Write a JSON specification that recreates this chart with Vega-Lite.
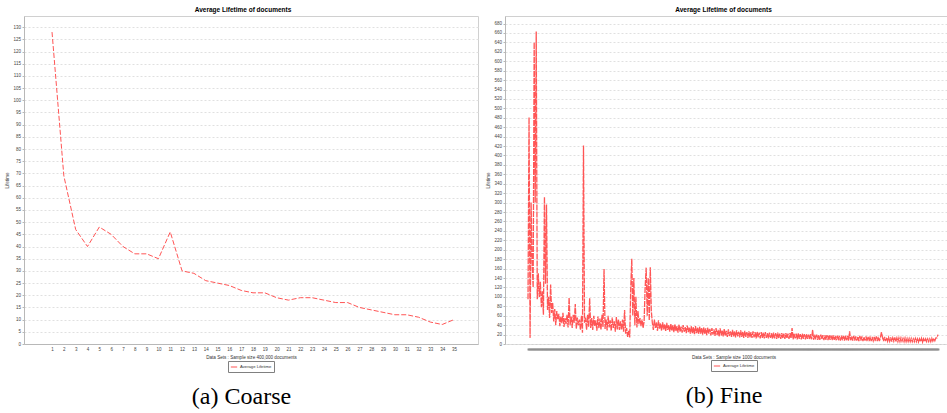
{
  "$schema": "https://vega.github.io/schema/vega-lite/v6.json",
  "background": "white",
  "padding": {"left": 4, "top": 6, "right": 0, "bottom": 0},
  "spacing": 6,
  "resolve": {"scale": {"color": "independent"}, "legend": {"color": "independent"}},
  "datasets": {
    "coarse": [
      {"set": 1, "lifetime": 128}, {"set": 2, "lifetime": 69}, {"set": 3, "lifetime": 47}, {"set": 4, "lifetime": 40},
      {"set": 5, "lifetime": 48}, {"set": 6, "lifetime": 45}, {"set": 7, "lifetime": 40}, {"set": 8, "lifetime": 37},
      {"set": 9, "lifetime": 37}, {"set": 10, "lifetime": 35}, {"set": 11, "lifetime": 46}, {"set": 12, "lifetime": 30},
      {"set": 13, "lifetime": 29}, {"set": 14, "lifetime": 26}, {"set": 15, "lifetime": 25}, {"set": 16, "lifetime": 24},
      {"set": 17, "lifetime": 22}, {"set": 18, "lifetime": 21}, {"set": 19, "lifetime": 21}, {"set": 20, "lifetime": 19},
      {"set": 21, "lifetime": 18}, {"set": 22, "lifetime": 19}, {"set": 23, "lifetime": 19}, {"set": 24, "lifetime": 18},
      {"set": 25, "lifetime": 17}, {"set": 26, "lifetime": 17}, {"set": 27, "lifetime": 15}, {"set": 28, "lifetime": 14},
      {"set": 29, "lifetime": 13}, {"set": 30, "lifetime": 12}, {"set": 31, "lifetime": 12}, {"set": 32, "lifetime": 11},
      {"set": 33, "lifetime": 9}, {"set": 34, "lifetime": 8}, {"set": 35, "lifetime": 10}
    ],
    "fine": [
      {"d":1,"v":95},{"d":2,"v":481},{"d":3,"v":13},{"d":4,"v":300},{"d":5,"v":175},{"d":6,"v":120},{"d":7,"v":640},{"d":8,"v":300},{"d":9,"v":663},{"d":10,"v":95},
      {"d":11,"v":150},{"d":12,"v":100},{"d":13,"v":132},{"d":14,"v":78},{"d":15,"v":112},{"d":16,"v":62},{"d":17,"v":312},{"d":18,"v":128},{"d":19,"v":296},{"d":20,"v":72},
      {"d":21,"v":100},{"d":22,"v":55},{"d":23,"v":126},{"d":24,"v":66},{"d":25,"v":88},{"d":26,"v":48},{"d":27,"v":74},{"d":28,"v":40},{"d":29,"v":70},{"d":30,"v":52},
      {"d":31,"v":64},{"d":32,"v":38},{"d":33,"v":58},{"d":34,"v":44},{"d":35,"v":66},{"d":36,"v":36},{"d":37,"v":55},{"d":38,"v":42},{"d":39,"v":62},{"d":40,"v":35},
      {"d":41,"v":98},{"d":42,"v":40},{"d":43,"v":58},{"d":44,"v":34},{"d":45,"v":62},{"d":46,"v":45},{"d":47,"v":85},{"d":48,"v":32},{"d":49,"v":56},{"d":50,"v":40},
      {"d":51,"v":52},{"d":52,"v":30},{"d":53,"v":60},{"d":54,"v":24},{"d":55,"v":421},{"d":56,"v":45},{"d":57,"v":56},{"d":58,"v":30},{"d":59,"v":62},{"d":60,"v":36},
      {"d":61,"v":97},{"d":62,"v":34},{"d":63,"v":55},{"d":64,"v":30},{"d":65,"v":60},{"d":66,"v":38},{"d":67,"v":50},{"d":68,"v":28},{"d":69,"v":58},{"d":70,"v":33},
      {"d":71,"v":54},{"d":72,"v":30},{"d":73,"v":62},{"d":74,"v":36},{"d":75,"v":159},{"d":76,"v":32},{"d":77,"v":52},{"d":78,"v":29},{"d":79,"v":60},{"d":80,"v":35},
      {"d":81,"v":50},{"d":82,"v":28},{"d":83,"v":56},{"d":84,"v":34},{"d":85,"v":48},{"d":86,"v":26},{"d":87,"v":57},{"d":88,"v":31},{"d":89,"v":52},{"d":90,"v":30},
      {"d":91,"v":48},{"d":92,"v":30},{"d":93,"v":52},{"d":94,"v":26},{"d":95,"v":72},{"d":96,"v":22},{"d":97,"v":34},{"d":98,"v":15},{"d":99,"v":28},{"d":100,"v":14},
      {"d":101,"v":120},{"d":102,"v":181},{"d":103,"v":60},{"d":104,"v":140},{"d":105,"v":40},{"d":106,"v":100},{"d":107,"v":35},{"d":108,"v":70},{"d":109,"v":42},{"d":110,"v":55},
      {"d":111,"v":38},{"d":112,"v":52},{"d":113,"v":34},{"d":114,"v":48},{"d":115,"v":120},{"d":116,"v":162},{"d":117,"v":60},{"d":118,"v":140},{"d":119,"v":50},{"d":120,"v":163},
      {"d":121,"v":70},{"d":122,"v":45},{"d":123,"v":30},{"d":124,"v":52},{"d":125,"v":34},{"d":126,"v":46},{"d":127,"v":28},{"d":128,"v":50},{"d":129,"v":32},{"d":130,"v":44},
      {"d":131,"v":28},{"d":132,"v":46},{"d":133,"v":31},{"d":134,"v":42},{"d":135,"v":27},{"d":136,"v":45},{"d":137,"v":30},{"d":138,"v":40},{"d":139,"v":26},{"d":140,"v":43},
      {"d":141,"v":28},{"d":142,"v":40},{"d":143,"v":25},{"d":144,"v":42},{"d":145,"v":27},{"d":146,"v":38},{"d":147,"v":24},{"d":148,"v":41},{"d":149,"v":26},{"d":150,"v":37},
      {"d":151,"v":24},{"d":152,"v":40},{"d":153,"v":26},{"d":154,"v":36},{"d":155,"v":23},{"d":156,"v":39},{"d":157,"v":25},{"d":158,"v":35},{"d":159,"v":22},{"d":160,"v":38},
      {"d":161,"v":22},{"d":162,"v":36},{"d":163,"v":20},{"d":164,"v":38},{"d":165,"v":23},{"d":166,"v":35},{"d":167,"v":21},{"d":168,"v":37},{"d":169,"v":22},{"d":170,"v":34},
      {"d":171,"v":20},{"d":172,"v":36},{"d":173,"v":21},{"d":174,"v":33},{"d":175,"v":19},{"d":176,"v":35},{"d":177,"v":22},{"d":178,"v":32},{"d":179,"v":18},{"d":180,"v":34},
      {"d":181,"v":20},{"d":182,"v":31},{"d":183,"v":17},{"d":184,"v":34},{"d":185,"v":19},{"d":186,"v":30},{"d":187,"v":16},{"d":188,"v":33},{"d":189,"v":18},{"d":190,"v":29},
      {"d":191,"v":16},{"d":192,"v":32},{"d":193,"v":17},{"d":194,"v":28},{"d":195,"v":15},{"d":196,"v":31},{"d":197,"v":17},{"d":198,"v":27},{"d":199,"v":15},{"d":200,"v":30},
      {"d":201,"v":16},{"d":202,"v":27},{"d":203,"v":14},{"d":204,"v":29},{"d":205,"v":16},{"d":206,"v":26},{"d":207,"v":14},{"d":208,"v":29},{"d":209,"v":15},{"d":210,"v":26},
      {"d":211,"v":13},{"d":212,"v":28},{"d":213,"v":15},{"d":214,"v":25},{"d":215,"v":13},{"d":216,"v":27},{"d":217,"v":14},{"d":218,"v":25},{"d":219,"v":13},{"d":220,"v":27},
      {"d":221,"v":14},{"d":222,"v":25},{"d":223,"v":12},{"d":224,"v":26},{"d":225,"v":14},{"d":226,"v":24},{"d":227,"v":12},{"d":228,"v":25},{"d":229,"v":13},{"d":230,"v":24},
      {"d":231,"v":12},{"d":232,"v":25},{"d":233,"v":13},{"d":234,"v":23},{"d":235,"v":12},{"d":236,"v":24},{"d":237,"v":13},{"d":238,"v":23},{"d":239,"v":11},{"d":240,"v":24},
      {"d":241,"v":12},{"d":242,"v":23},{"d":243,"v":11},{"d":244,"v":24},{"d":245,"v":12},{"d":246,"v":22},{"d":247,"v":11},{"d":248,"v":23},{"d":249,"v":12},{"d":250,"v":22},
      {"d":251,"v":11},{"d":252,"v":23},{"d":253,"v":12},{"d":254,"v":22},{"d":255,"v":11},{"d":256,"v":23},{"d":257,"v":12},{"d":258,"v":34},{"d":259,"v":10},{"d":260,"v":22},
      {"d":261,"v":12},{"d":262,"v":22},{"d":263,"v":10},{"d":264,"v":23},{"d":265,"v":11},{"d":266,"v":21},{"d":267,"v":10},{"d":268,"v":22},{"d":269,"v":11},{"d":270,"v":21},
      {"d":271,"v":10},{"d":272,"v":21},{"d":273,"v":11},{"d":274,"v":20},{"d":275,"v":10},{"d":276,"v":21},{"d":277,"v":10},{"d":278,"v":30},{"d":279,"v":9},{"d":280,"v":20},
      {"d":281,"v":10},{"d":282,"v":20},{"d":283,"v":9},{"d":284,"v":19},{"d":285,"v":9},{"d":286,"v":20},{"d":287,"v":10},{"d":288,"v":19},{"d":289,"v":8},{"d":290,"v":19},
      {"d":291,"v":9},{"d":292,"v":19},{"d":293,"v":8},{"d":294,"v":19},{"d":295,"v":9},{"d":296,"v":18},{"d":297,"v":8},{"d":298,"v":19},{"d":299,"v":9},{"d":300,"v":17},
      {"d":301,"v":8},{"d":302,"v":18},{"d":303,"v":8},{"d":304,"v":17},{"d":305,"v":7},{"d":306,"v":18},{"d":307,"v":8},{"d":308,"v":17},{"d":309,"v":7},{"d":310,"v":18},
      {"d":311,"v":8},{"d":312,"v":17},{"d":313,"v":7},{"d":314,"v":27},{"d":315,"v":8},{"d":316,"v":16},{"d":317,"v":7},{"d":318,"v":17},{"d":319,"v":7},{"d":320,"v":16},
      {"d":321,"v":7},{"d":322,"v":16},{"d":323,"v":6},{"d":324,"v":17},{"d":325,"v":7},{"d":326,"v":16},{"d":327,"v":6},{"d":328,"v":15},{"d":329,"v":7},{"d":330,"v":16},
      {"d":331,"v":6},{"d":332,"v":15},{"d":333,"v":6},{"d":334,"v":16},{"d":335,"v":6},{"d":336,"v":15},{"d":337,"v":7},{"d":338,"v":15},{"d":339,"v":6},{"d":340,"v":16},
      {"d":341,"v":6},{"d":342,"v":15},{"d":343,"v":6},{"d":344,"v":14},{"d":345,"v":25},{"d":346,"v":14},{"d":347,"v":6},{"d":348,"v":15},{"d":349,"v":6},{"d":350,"v":14},
      {"d":351,"v":6},{"d":352,"v":14},{"d":353,"v":6},{"d":354,"v":14},{"d":355,"v":5},{"d":356,"v":13},{"d":357,"v":6},{"d":358,"v":14},{"d":359,"v":5},{"d":360,"v":13},
      {"d":361,"v":5},{"d":362,"v":13},{"d":363,"v":5},{"d":364,"v":13},{"d":365,"v":6},{"d":366,"v":12},{"d":367,"v":5},{"d":368,"v":13},{"d":369,"v":5},{"d":370,"v":12},
      {"d":371,"v":5},{"d":372,"v":12},{"d":373,"v":5},{"d":374,"v":12},{"d":375,"v":5},{"d":376,"v":11},{"d":377,"v":5},{"d":378,"v":12},{"d":379,"v":5},{"d":380,"v":11},
      {"d":381,"v":4},{"d":382,"v":11},{"d":383,"v":5},{"d":384,"v":12},{"d":385,"v":4},{"d":386,"v":11},{"d":387,"v":5},{"d":388,"v":11},{"d":389,"v":5},{"d":390,"v":11},
      {"d":391,"v":5},{"d":392,"v":11},{"d":393,"v":5},{"d":394,"v":12},{"d":395,"v":6},{"d":396,"v":12},{"d":397,"v":7},{"d":398,"v":13},{"d":399,"v":13},{"d":400,"v":20}
    ]
  },
  "config": {
    "font": "Liberation Sans",
    "view": {"stroke": "#d0d0d0", "strokeWidth": 1},
    "axis": {
      "labelFontSize": 4.5,
      "labelColor": "#444444",
      "titleFontSize": 4.6,
      "titleFontWeight": "normal",
      "titleColor": "#333333",
      "domainColor": "#b8b8b8",
      "tickColor": "#b8b8b8",
      "tickSize": 2,
      "labelPadding": 1.5,
      "gridColor": "#e0e0e0",
      "gridDash": [2, 2]
    },
    "legend": {
      "orient": "bottom",
      "layout": {"bottom": {"anchor": "middle"}},
      "offset": 1,
      "padding": 2,
      "strokeColor": "#808080",
      "labelFontSize": 4.2,
      "labelColor": "#333333",
      "labelOffset": 2,
      "symbolType": "stroke",
      "symbolSize": 40,
      "symbolStrokeWidth": 1
    },
    "title": {"color": "#000000"}
  },
  "hconcat": [
    {
      "title": {"text": "(a) Coarse", "orient": "bottom", "anchor": "middle", "font": "Liberation Serif", "fontSize": 24, "fontWeight": "normal", "offset": 12},
      "resolve": {"scale": {"color": "independent"}, "legend": {"color": "independent"}},
      "vconcat": [
        {
          "width": 454,
          "height": 328,
          "title": {"text": "Average Lifetime of documents", "fontSize": 6.5, "fontWeight": "bold", "offset": 3, "dx": -8},
          "data": {"name": "coarse"},
          "mark": {"type": "line", "strokeWidth": 1, "strokeDash": [5, 2]},
          "encoding": {
            "x": {
              "field": "set",
              "type": "quantitative",
              "scale": {"domain": [-1.37, 37.03], "nice": false, "zero": false},
              "axis": {
                "title": "Data Sets : Sample size 400,000 documents",
                "values": [1,2,3,4,5,6,7,8,9,10,11,12,13,14,15,16,17,18,19,20,21,22,23,24,25,26,27,28,29,30,31,32,33,34,35],
                "labelAngle": 0, "grid": false, "tickSize": 0, "labelPadding": 2, "titlePadding": 4
              }
            },
            "y": {
              "field": "lifetime",
              "type": "quantitative",
              "scale": {"domain": [0, 134.6], "nice": false},
              "axis": {"title": "Lifetime", "tickCount": 27, "grid": true, "titlePadding": 3}
            },
            "color": {
              "datum": "Average Lifetime",
              "type": "nominal",
              "scale": {"range": ["#ff5555"]},
              "legend": {"title": null}
            }
          }
        }
      ]
    },
    {
      "title": {"text": "(b) Fine", "orient": "bottom", "anchor": "middle", "font": "Liberation Serif", "fontSize": 24, "fontWeight": "normal", "offset": 12},
      "resolve": {"scale": {"color": "independent"}, "legend": {"color": "independent"}},
      "vconcat": [
        {
          "width": 457,
          "height": 328,
          "title": {"text": "Average Lifetime of documents", "fontSize": 6.5, "fontWeight": "bold", "offset": 3, "dx": -10},
          "data": {"name": "fine"},
          "mark": {"type": "line", "strokeWidth": 1.3, "strokeDash": [6, 1]},
          "encoding": {
            "x": {
              "field": "d",
              "type": "quantitative",
              "scale": {"domain": [-21.4, 423.4], "nice": false, "zero": false},
              "axis": {
                "title": "Data Sets : Sample size 1000 documents",
                "labels": false, "grid": false, "domain": false, "offset": 4,
                "tickCount": 445, "tickSize": 2, "tickWidth": 2, "tickRound": false, "tickColor": "#8f8f8f",
                "tickOpacity": {"condition": {"test": "datum.value >= 1 && datum.value <= 400", "value": 1}, "value": 0},
                "titlePadding": 3
              }
            },
            "y": {
              "field": "v",
              "type": "quantitative",
              "scale": {"domain": [0, 696], "nice": false},
              "axis": {"title": "Lifetime", "tickCount": 35, "grid": true, "titlePadding": 3}
            },
            "color": {
              "datum": "Average Lifetime",
              "type": "nominal",
              "scale": {"range": ["#ff5555"]},
              "legend": {"title": null}
            }
          }
        }
      ]
    }
  ]
}
